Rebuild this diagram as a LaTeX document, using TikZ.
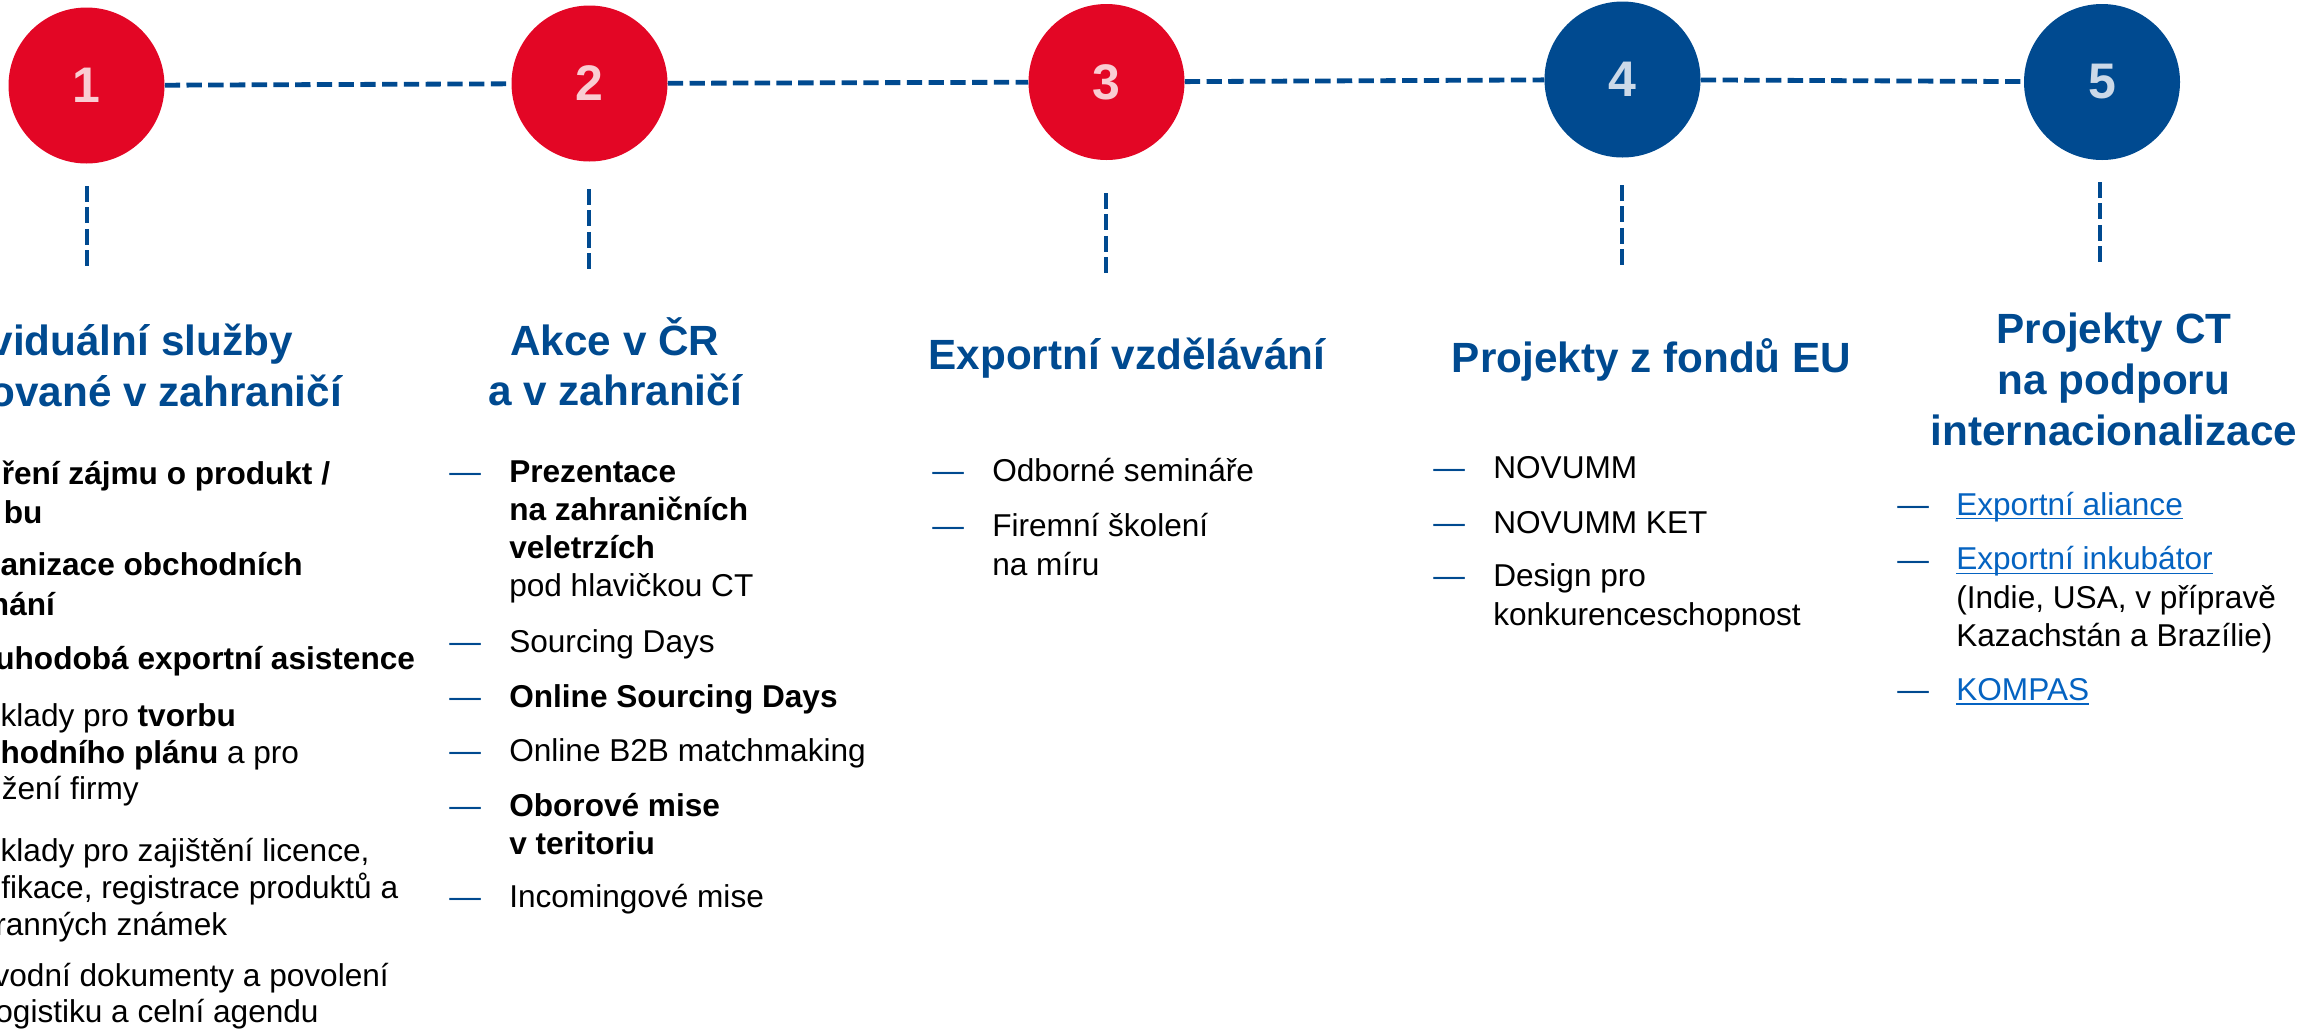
\documentclass[tikz,border=0pt]{standalone}
\usepackage{fontspec}
\setmainfont{Liberation Sans}
\definecolor{czred}{RGB}{227,6,37}
\definecolor{czblue}{RGB}{0,74,144}
\definecolor{numred}{RGB}{249,205,211}
\definecolor{numblue}{RGB}{204,217,232}
\definecolor{lnkblue}{RGB}{5,99,193}
\newcommand\lnk[1]{\textcolor{lnkblue}{\setbox0=\hbox{#1}\rlap{\rule[-3.2pt]{\wd0}{1.3pt}}\box0}}
\tikzset{
 num/.style={circle, inner sep=0pt, minimum size=117pt, font=\fontsize{37.5}{37.5}\selectfont\bfseries},
 redc/.style={num, fill=czred, text=numred},
 bluec/.style={num, fill=czblue, text=numblue},
 hline/.style={czblue, line width=3.6pt, dash pattern=on 11.5pt off 4.8pt},
 vline/.style={czblue, line width=3.6pt, dash pattern=on 12pt off 4.1pt},
 ttl/.style={anchor=base, inner sep=0pt, align=center, text=czblue, font=\fontsize{31.7}{38}\selectfont\bfseries},
 body/.style={anchor=base west, inner sep=0pt, align=left, font=\fontsize{23.7}{28.7}\selectfont},
 bodyA/.style={anchor=base west, inner sep=0pt, font=\fontsize{23.7}{27.7}\selectfont},
 bul/.style={anchor=base west, inner sep=0pt, text=czblue, font=\fontsize{23.7}{28.7}\selectfont},
}
\begin{document}
\begin{tikzpicture}[x=0.75pt, y=-0.75pt]
\useasboundingbox (0,0) rectangle (2320,1029);
% circles
\node[redc]  (c1) at (86.5,85.5) {1};
\node[redc]  (c2) at (589.5,83.5) {2};
\node[redc]  (c3) at (1106.5,82) {3};
\node[bluec] (c4) at (1622.5,79.5) {4};
\node[bluec] (c5) at (2102,82) {5};
\draw[hline] (c1) -- (c2);
\draw[hline] (c2) -- (c3);
\draw[hline] (c3) -- (c4);
\draw[hline] (c4) -- (c5);
% vertical dashed stubs
\coordinate (v1a) at (87,186);   \coordinate (v1b) at (87,267);
\coordinate (v2a) at (589,189);  \coordinate (v2b) at (589,270);
\coordinate (v3a) at (1106,193); \coordinate (v3b) at (1106,273);
\coordinate (v4a) at (1622,185); \coordinate (v4b) at (1622,267);
\coordinate (v5a) at (2100,182); \coordinate (v5b) at (2100,264);
\draw[vline] (v1a) -- (v1b);
\draw[vline] (v2a) -- (v2b);
\draw[vline] (v3a) -- (v3b);
\draw[vline] (v4a) -- (v4b);
\draw[vline] (v5a) -- (v5b);
% column 1 (cut at the left edge)
\node[ttl, anchor=base west] (t1a) at (-10.7,355) {viduální služby};
\node[ttl, anchor=base west] (t1b) at (-10.7,406) {ované v zahraničí};
\node[bodyA] (a1) at (1.5,484) {\bfseries ření zájmu o produkt /};
\node[bodyA] (a2) at (3.5,523) {\bfseries bu};
\node[bodyA] (a3) at (0.4,575) {\bfseries anizace obchodních};
\node[bodyA] (a4) at (-10.3,615) {\bfseries nání};
\node[bodyA] (a5) at (-4.9,669.3) {\bfseries uhodobá exportní asistence};
\node[bodyA] (a6) at (0.4,726.7) {klady pro \textbf{tvorbu}};
\node[bodyA] (a7) at (0.4,763.3) {\textbf{hodního plánu} a pro};
\node[bodyA] (a8) at (1.5,799.3) {žení firmy};
\node[bodyA] (a9) at (0.4,861.3) {klady pro zajištění licence,};
\node[bodyA] (a10) at (1.0,898.7) {fikace, registrace produktů a};
\node[bodyA] (a11) at (-4.9,935.3) {ranných známek};
\node[bodyA] (a12) at (-6.7,986.7) {vodní dokumenty a povolení};
\node[bodyA] (a13) at (-4.9,1022.7) {ogistiku a celní agendu};
% column 2 (multi-line nodes are placed by the baseline of their last line)
\node[ttl] (t2) at (615,405.7) {Akce v ČR\\a v zahraničí};
\node[bul] (d2a) at (449,482) {—};
\node[bul] (d2b) at (449,652) {—};
\node[bul] (d2c) at (449,707.5) {—};
\node[bul] (d2d) at (449,761) {—};
\node[bul] (d2e) at (449,816) {—};
\node[bul] (d2f) at (449,907.4) {—};
\node[body] (b1) at (509,596.8) {\textbf{Prezentace}\\\textbf{na zahraničních}\\\textbf{veletrzích}\\pod hlavičkou CT};
\node[body] (b2) at (509,652) {Sourcing Days};
\node[body] (b3) at (509,707.5) {\textbf{Online Sourcing Days}};
\node[body] (b4) at (509,761) {Online B2B matchmaking};
\node[body] (b5) at (509,854.3) {\textbf{Oborové mise}\\\textbf{v teritoriu}};
\node[body] (b6) at (509,907.4) {Incomingové mise};
% column 3
\node[ttl] (t3) at (1127,369.3) {Exportní vzdělávání};
\node[bul] (d3a) at (932,481.7) {—};
\node[bul] (d3b) at (932,536.7) {—};
\node[body] (e1) at (992,481.7) {Odborné semináře};
\node[body] (e2) at (992,575) {Firemní školení\\na míru};
% column 4
\node[ttl] (t4) at (1651.5,372) {Projekty z fondů EU};
\node[bul] (d4a) at (1433,478) {—};
\node[bul] (d4b) at (1433,533) {—};
\node[bul] (d4c) at (1433,586.7) {—};
\node[body] (f1) at (1493,478) {NOVUMM};
\node[body] (f2) at (1493,533) {NOVUMM KET};
\node[body] (f3) at (1493,625) {Design pro\\konkurenceschopnost};
% column 5
\node[ttl] (t5) at (2114,445.3) {Projekty CT\\na podporu\\internacionalizace};
\node[bul] (d5a) at (1897,515) {—};
\node[bul] (d5b) at (1897,570) {—};
\node[bul] (d5c) at (1897,700.7) {—};
\node[body] (g1) at (1956,515) {\lnk{Exportní aliance}};
\node[body] (g2) at (1956,646.5) {\lnk{Exportní inkubátor}\\(Indie, USA, v přípravě\\Kazachstán a Brazílie)};
\node[body] (g3) at (1956,700.7) {\lnk{KOMPAS}};
\end{tikzpicture}
\end{document}
